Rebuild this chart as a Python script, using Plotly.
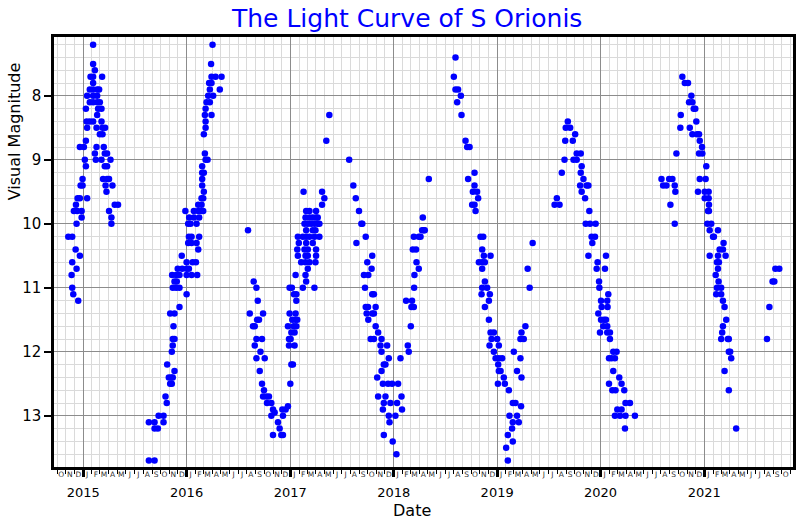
import pandas as pd
import plotly.graph_objects as go

# ---- observations: decimal year and visual magnitude, one pair of lists per season ----
s1_year = [2014.856,2014.894,2014.927,2014.968,2014.894,2014.936,2014.888,2014.894,2014.904,2014.952,
           2014.910,2014.942,2014.985,2014.985,2014.936,2014.930,2014.946,2014.968,2015.038,2015.225,
           2014.975,2014.994,2015.216,2015.283,2014.994,2015.192,2015.231,2015.250,
           2015.026,2015.209,2015.231,2015.016,2015.122,2015.177,2015.264,
           2015.113,2015.209,2015.231,2014.968,2015.007,2015.129,2015.199,2015.026,
           2015.161,2015.187,2015.038,2015.129,2015.187,2015.212,
           2015.033,2015.064,2015.096,2015.177,2015.135,2015.026,2015.144,2015.177,
           2015.064,2015.096,2015.135,2015.161,2015.038,2015.096,2015.135,
           2015.064,2015.096,2015.135,2015.154,2015.096,2015.071,2015.096,2015.183,
           2015.113,2015.096,2015.096,2015.305,2015.337,2015.250,2015.273,2015.273]
s1_mag = [10.2,10.2,10.4,10.5,10.6,10.7,10.8,11.0,11.1,11.2,
          9.8,9.8,9.8,9.9,10.0,9.7,9.6,9.6,9.6,9.5,
          9.4,9.4,9.4,9.4,9.3,9.3,9.3,9.3,
          9.1,9.1,9.1,9.0,9.0,9.0,9.0,
          8.9,8.9,8.9,8.8,8.8,8.8,8.8,8.7,
          8.6,8.6,8.5,8.5,8.5,8.5,
          8.4,8.4,8.4,8.4,8.3,8.2,8.2,8.2,
          8.1,8.1,8.1,8.1,8.0,8.0,8.0,
          7.9,7.9,7.9,7.9,7.8,7.7,7.7,7.7,
          7.6,7.5,7.2,9.7,9.7,9.8,9.9,10.0]

s2_year = [2015.635,2015.690,2015.635,2015.690,2015.690,2015.722,2015.729,2015.777,2015.777,
           2015.796,2015.808,2015.812,2015.828,2015.851,2015.866,2015.883,2015.841,2015.857,
           2015.857,2015.866,2015.866,2015.883,2015.873,2015.841,2015.883,2015.931,
           2015.866,2015.899,2015.931,2015.883,2015.905,
           2015.860,2015.899,2015.931,2016.000,2016.048,2016.102,
           2015.914,2015.957,2016.000,2016.022,2016.000,2016.058,2016.090,
           2015.953,2016.112,2016.015,2016.048,2016.096,2016.022,2016.048,2016.121,
           2016.015,2016.038,2016.096,2016.025,2016.070,2016.121,
           2015.988,2016.070,2016.112,2016.144,2016.160,2016.000,
           2016.112,2016.144,2016.144,2016.160,2016.166,2016.150,2016.150,2016.150,2016.166,2016.150,
           2016.183,2016.202,2016.176,2016.166,2016.183,2016.183,2016.176,2016.240,2016.183,
           2016.192,2016.224,2016.208,2016.256,2016.224,2016.320,2016.217,2016.240,
           2016.240,2016.279,2016.337,2016.236,2016.250]
s2_mag = [13.7,13.7,13.1,13.1,13.2,13.2,13.0,13.0,13.1,
          12.7,12.8,12.2,12.4,12.4,12.4,12.3,12.5,12.5,
          12.0,11.9,11.8,11.8,11.6,11.4,11.4,11.3,
          11.0,11.0,11.0,10.9,10.9,
          10.8,10.8,10.8,10.8,10.8,10.8,
          10.7,10.7,10.7,10.7,10.6,10.6,10.6,
          10.5,10.4,10.3,10.3,10.3,10.2,10.2,10.2,
          10.0,10.0,10.0,9.9,9.9,9.9,
          9.8,9.8,9.8,9.8,9.8,11.1,
          9.7,9.7,9.6,9.6,9.5,9.4,9.3,9.2,9.2,9.1,
          9.0,9.0,8.9,8.6,8.5,8.4,8.3,8.3,8.2,
          8.1,8.1,8.0,8.0,7.9,7.9,7.8,7.8,
          7.7,7.7,7.7,7.5,7.2]

s3_year = [2016.592,2016.647,2016.673,2016.686,2016.609,2016.737,2016.679,2016.698,2016.640,2016.657,
           2016.673,2016.727,2016.657,2016.712,2016.673,2016.753,2016.705,2016.727,2016.746,
           2016.737,2016.769,2016.794,2016.775,2016.817,2016.833,2016.849,2016.923,2016.955,2016.977,
           2016.817,2016.929,2016.881,2016.897,2016.833,2016.913,2016.929,
           2017.000,2017.010,2017.025,2016.987,2017.041,2016.987,2017.003,2017.010,2017.041,
           2016.977,2017.032,2017.058,2017.019,2017.048,2017.067,2016.993,2017.051,
           2017.058,2017.035,2017.058,2016.993,2017.015,2017.051,
           2017.121,2017.233,2017.153,2017.147,
           2017.105,2017.147,2017.185,2017.243,2017.169,
           2017.073,2017.147,2017.169,2017.249,2017.067,2017.137,2017.169,2017.249,
           2017.082,2017.153,2017.217,2017.073,2017.121,2017.153,2017.185,2017.233,2017.281,
           2017.153,2017.217,2017.243,2017.137,2017.169,2017.201,2017.233,2017.265,2017.281,
           2017.147,2017.185,2017.217,2017.249,2017.265,2017.153,2017.185,2017.249,
           2017.307,2017.329,2017.128,2017.307,2017.348,2017.377]
s3_mag = [10.1,10.9,11.0,11.2,11.4,11.4,11.5,11.5,11.6,11.6,
          11.8,11.8,11.9,12.0,12.1,12.1,12.3,12.5,12.6,
          12.7,12.7,12.7,12.8,12.8,12.9,12.95,12.9,12.9,12.85,
          13.0,13.0,13.1,13.2,13.3,13.3,13.3,
          12.5,12.2,12.2,11.9,11.9,11.8,11.8,11.7,11.7,
          11.6,11.6,11.6,11.5,11.5,11.5,11.4,11.4,
          11.2,11.1,11.1,11.0,11.0,10.8,
          11.0,11.0,10.9,10.8,
          10.6,10.6,10.6,10.6,10.7,
          10.5,10.5,10.5,10.5,10.4,10.4,10.4,10.4,
          10.3,10.3,10.3,10.2,10.2,10.2,10.2,10.2,10.2,
          10.1,10.1,10.1,10.0,10.0,10.0,10.0,10.0,10.0,
          9.9,9.9,9.9,9.9,9.9,9.8,9.8,9.8,
          9.7,9.6,9.5,9.5,8.7,8.3]

s4_year = [2017.569,2017.609,2017.633,2017.664,2017.687,2017.696,2017.729,2017.639,2017.792,2017.744,2017.786,
           2017.712,2017.754,2017.722,2017.792,2017.808,2017.825,2017.729,2017.751,
           2017.738,2017.792,2017.808,2017.754,2017.825,2017.849,2017.777,2017.808,2017.882,
           2017.872,2017.936,2017.882,2017.952,2018.065,2017.904,2017.920,2017.882,2017.840,
           2017.895,2017.945,2017.984,2018.042,2017.849,2017.920,2018.075,
           2017.904,2017.968,2018.032,2017.895,2018.080,2017.952,2018.016,2017.959,
           2017.904,2017.990,2018.026,
           2018.136,2018.145,2018.165,2018.171,2018.194,2018.119,2018.177,2018.197,2018.200,
           2018.220,2018.242,2018.184,2018.216,2018.194,2018.242,2018.259,2018.274,2018.290,2018.300,
           2018.281,2018.339]
s4_mag = [9.0,9.4,9.6,9.8,10.0,10.0,10.2,10.3,10.5,10.6,10.7,
          10.8,10.8,11.0,11.1,11.1,11.3,11.3,11.3,
          11.4,11.4,11.4,11.5,11.6,11.7,11.8,11.8,11.8,
          11.9,11.9,12.0,12.1,12.1,12.2,12.2,12.3,12.4,
          12.5,12.5,12.5,12.5,12.7,12.7,12.7,
          12.8,12.8,12.8,12.9,12.9,13.0,13.0,13.1,
          13.3,13.4,13.6,
          11.9,12.0,11.6,11.3,11.3,11.2,11.2,11.0,10.8,
          10.6,10.7,10.4,10.4,10.2,10.2,10.2,10.1,10.1,10.1,
          9.9,9.3]

s5_year = [2018.597,2018.581,2018.597,2018.622,2018.649,2018.613,2018.655,2018.694,2018.710,2018.733,
           2018.781,2018.719,2018.781,2018.765,2018.806,2018.816,2018.758,2018.781,2018.791,
           2018.839,2018.865,2018.855,2018.871,2018.936,2018.823,2018.855,2018.881,2018.855,
           2018.881,2018.855,2018.903,2018.849,2018.929,2018.920,2018.881,2018.920,
           2018.936,2018.968,2018.946,2019.000,2018.926,2019.016,2018.968,
           2018.985,2019.016,2019.048,2019.010,2019.016,2019.033,2019.064,2019.007,2019.074,
           2019.113,2019.151,2019.177,2019.231,2019.119,2019.192,2019.151,2019.209,2019.144,
           2019.103,2019.151,2019.087,2019.103,
           2019.273,2019.235,2019.225,2019.257,2019.161,2019.225,2019.192,2019.235,
           2019.314,2019.295,2019.343]
s5_mag = [7.4,7.7,7.9,7.9,8.0,8.1,8.3,8.7,8.8,8.8,
          9.2,9.3,9.4,9.5,9.5,9.6,9.7,9.7,9.8,
          10.2,10.2,10.4,10.5,10.5,10.6,10.6,10.6,10.7,
          10.9,11.0,11.0,11.1,11.1,11.2,11.3,11.5,
          11.7,11.7,11.8,11.8,11.9,11.9,12.0,
          12.1,12.1,12.1,12.2,12.3,12.3,12.4,12.5,12.5,
          12.6,12.8,12.8,12.85,13.0,13.0,13.1,13.1,13.2,
          13.3,13.4,13.5,13.7,
          11.6,11.7,11.8,11.8,12.0,12.1,12.3,12.4,
          11.0,10.7,10.3]

s6_year = [2019.683,2019.663,2019.706,2019.754,2019.658,2019.731,2019.769,2019.808,
           2019.651,2019.738,2019.769,2019.817,2019.625,2019.808,2019.834,2019.802,2019.865,2019.882,
           2019.817,2019.850,2019.577,2019.555,2019.603,2019.891,2019.856,2019.898,2019.952,
           2019.913,2019.946,2019.920,2019.882,2020.052,2019.971,2019.962,2020.042,
           2019.985,2019.988,2020.074,2020.004,2020.064,2020.010,2020.067,
           2019.978,2020.004,2020.033,2020.052,2020.026,2020.064,2019.994,2020.064,2020.090,2020.090,
           2020.122,2020.154,2020.081,2020.106,2020.138,2020.122,2020.180,2020.081,2020.202,
           2020.113,2020.144,2020.228,2020.240,2020.283,2020.161,2020.202,
           2020.138,2020.187,2020.240,2020.331,2020.235]
s6_mag = [8.4,8.5,8.5,8.6,8.7,8.7,8.9,8.9,
          9.0,9.0,9.0,9.1,9.2,9.2,9.3,9.4,9.4,9.4,
          9.5,9.6,9.6,9.7,9.7,9.8,10.0,10.0,10.0,
          10.2,10.2,10.3,10.5,10.5,10.6,10.7,10.7,
          10.9,11.0,11.1,11.2,11.2,11.3,11.3,
          11.4,11.5,11.5,11.5,11.6,11.6,11.7,11.7,11.7,11.8,
          12.0,12.0,12.1,12.1,12.1,12.3,12.4,12.5,12.5,
          12.6,12.6,12.6,12.8,12.8,12.9,12.9,
          13.0,13.0,13.0,13.0,13.2]

s7_year = [2020.788,2020.812,2020.843,2020.875,2020.853,2020.885,2020.898,2020.913,2020.773,2020.923,
           2020.769,2020.860,2020.885,2020.930,2020.949,2020.956,2020.978,2020.731,2020.949,2020.981,
           2021.019,2020.587,2020.661,2020.692,2020.956,2021.013,2020.603,2020.635,2020.715,
           2020.721,2020.939,2021.004,2021.042,2021.004,2021.042,2020.673,2021.045,2021.036,2021.045,
           2020.715,2021.029,2021.067,2021.052,2021.132,2021.084,2021.093,2021.186,2021.148,2021.180,
           2021.052,2021.132,2021.206,2021.122,2021.141,2021.132,2021.110,2021.138,2021.122,2021.163,
           2021.115,2021.163,2021.180,2021.196,2021.212,2021.180,2021.173,2021.163,2021.228,2021.237,
           2021.237,2021.250,2021.260,2021.196,2021.237,2021.308,
           2021.687,2021.725,2021.660,2021.677,2021.629,2021.606]
s7_mag = [7.7,7.8,7.8,8.0,8.1,8.1,8.2,8.2,8.3,8.4,
          8.5,8.5,8.6,8.6,8.6,8.7,8.8,8.9,8.9,8.9,
          9.1,9.3,9.3,9.3,9.3,9.3,9.4,9.4,9.4,
          9.5,9.5,9.5,9.5,9.6,9.6,9.7,9.7,9.8,9.8,
          10.0,10.0,10.0,10.1,10.1,10.2,10.2,10.3,10.4,10.4,
          10.5,10.5,10.5,10.6,10.6,10.7,10.8,10.9,11.0,11.0,
          11.1,11.1,11.2,11.3,11.5,11.6,11.7,11.8,11.8,11.8,
          12.0,12.0,12.1,12.3,12.6,13.2,
          10.7,10.7,10.9,10.9,11.3,11.8]

year_labels = ["2015", "2016", "2017", "2018", "2019", "2020", "2021"]
month_letters = ["J", "F", "M", "A", "M", "J", "J", "A", "S", "O", "N", "D"]
magnitude_ticks = [8, 9, 10, 11, 12, 13]

x_start, x_end = "2014-09-20", "2021-11-10"


def to_date(v):
    y = int(v)
    a = pd.Timestamp(year=y, month=1, day=1)
    b = pd.Timestamp(year=y + 1, month=1, day=1)
    return a + (v - y) * (b - a)


all_years = s1_year + s2_year + s3_year + s4_year + s5_year + s6_year + s7_year
all_mags = s1_mag + s2_mag + s3_mag + s4_mag + s5_mag + s6_mag + s7_mag
dates = [to_date(v) for v in all_years]

month_starts = pd.date_range("2014-09-01", "2021-12-01", freq="MS")
month_mids = [d + pd.Timedelta(days=14) for d in month_starts]
month_text = [month_letters[d.month - 1] for d in month_starts]
year_vals = [f"{y}-01-01" for y in year_labels]

fig = go.Figure()
fig.add_trace(go.Scatter(x=dates, y=all_mags, mode="markers",
                         marker=dict(size=6.5, color="#0000ff"),
                         hoverinfo="skip", showlegend=False))
# invisible trace to activate the month-label axis
fig.add_trace(go.Scatter(x=[dates[0]], y=[all_mags[0]], xaxis="x2", mode="markers",
                         marker=dict(size=6, color="rgba(0,0,0,0)"), showlegend=False,
                         hoverinfo="skip"))

font_family = "DejaVu Sans"
fig.update_layout(
    width=800, height=520,
    margin=dict(l=54, r=4, t=37, b=53),
    plot_bgcolor="white", paper_bgcolor="white",
    font=dict(family=font_family, color="black"),
    showlegend=False,
    xaxis=dict(
        type="date", range=[x_start, x_end],
        tickmode="array", tickvals=year_vals, ticktext=year_labels,
        ticks="outside", ticklen=7, tickwidth=2.5, tickcolor="black",
        tickfont=dict(size=13, family=font_family), ticklabelstandoff=5,
        showgrid=True, gridcolor="#8c8c8c", gridwidth=1,
        showline=True, linecolor="black", linewidth=2.5, mirror=True,
        zeroline=False,
        minor=dict(tickmode="array", tickvals=list(month_starts), ticks="outside",
                   ticklen=4, tickwidth=1, tickcolor="black",
                   showgrid=True, gridcolor="#dadada", gridwidth=1),
    ),
    xaxis2=dict(
        type="date", range=[x_start, x_end], overlaying="x", anchor="y", side="bottom",
        tickmode="array", tickvals=month_mids, ticktext=month_text,
        ticks="", showgrid=False, showline=False, zeroline=False,
        tickfont=dict(size=7.5, family=font_family, color="#333"), tickangle=0,
        ticklabelstandoff=1,
    ),
    yaxis=dict(
        range=[13.8, 7.08], tickmode="array", tickvals=magnitude_ticks,
        ticktext=[str(v) for v in magnitude_ticks],
        ticks="outside", ticklen=7, tickwidth=2, tickcolor="black",
        tickfont=dict(size=15, family=font_family),
        showgrid=True, gridcolor="#8c8c8c", gridwidth=1,
        showline=True, linecolor="black", linewidth=2.5, mirror=True,
        zeroline=False,
        minor=dict(tick0=7, dtick=0.2, ticks="", showgrid=True,
                   gridcolor="#dadada", gridwidth=1),
    ),
    annotations=[
        dict(text="The Light Curve of S Orionis", xref="paper", yref="paper",
             x=0.477, y=1.042, xanchor="center", yanchor="middle", showarrow=False,
             font=dict(size=25, color="#0000ff", family=font_family)),
        dict(text="Visual Magnitude", xref="paper", yref="paper",
             x=-0.054, y=0.781, xanchor="center", yanchor="middle", showarrow=False,
             textangle=-90, font=dict(size=16, color="black", family=font_family)),
        dict(text="Date", xref="paper", yref="paper",
             x=0.484, y=-0.102, xanchor="center", yanchor="middle", showarrow=False,
             font=dict(size=16, color="black", family=font_family)),
    ],
)

fig.write_html("out.html")
